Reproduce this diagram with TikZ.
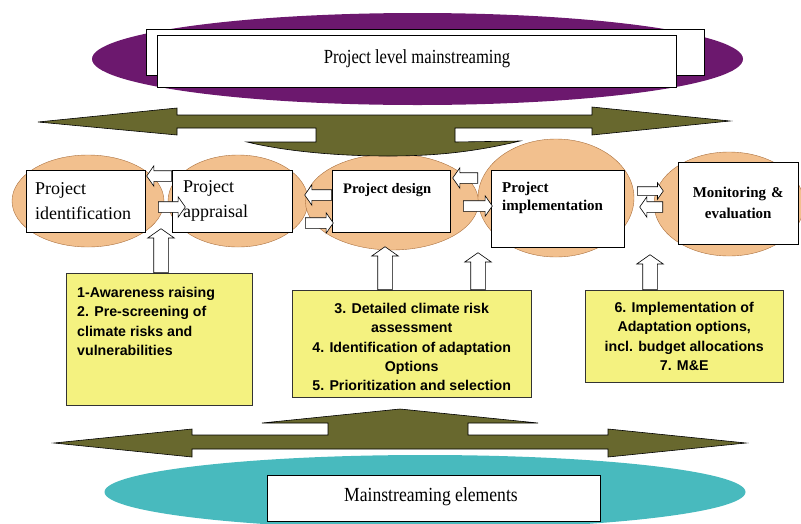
\documentclass[tikz,border=0pt]{standalone}
\usepackage{fontspec}
\setmainfont{Liberation Serif}
\newfontfamily\notefont{Liberation Sans}
\usetikzlibrary{shapes.geometric,shapes.arrows}

\definecolor{bandpurple}{RGB}{108,24,110}
\definecolor{arrowolive}{RGB}{104,104,46}
\definecolor{basecyan}{RGB}{72,186,190}
\definecolor{phasetan}{RGB}{242,192,142}
\definecolor{phaseedge}{RGB}{170,112,62}
\definecolor{noteyellow}{RGB}{244,242,128}

\begin{document}
\begin{tikzpicture}[x=1pt,y=-1pt,
	phase/.style={ellipse, draw=phaseedge, fill=phasetan, inner sep=0pt},
	stagebox/.style={draw, fill=white, inner sep=0pt, anchor=north west},
	notebox/.style={draw=black!80, fill=noteyellow, inner sep=0pt, anchor=north west},
	notetext/.style={inner sep=0pt, font=\notefont\bfseries\fontsize{14.2}{19.3}\selectfont},
	bandtext/.style={inner sep=0pt, anchor=base, font=\fontsize{20}{24}\selectfont},
	bigarrow/.style={fill=arrowolive, draw=black, line width=0.6pt, line join=miter},
	blockarr/.style={single arrow, draw, fill=white, line width=0.6pt, inner xsep=0pt,
		inner ysep=5pt, single arrow head extend=5pt, single arrow tip angle=110, anchor=tail},
	uparr/.style={blockarr, inner xsep=7pt, inner ysep=0pt, single arrow head extend=6pt, shape border rotate=90}]
	\useasboundingbox (0,0) rectangle (801,523);
	% top band
	\node[ellipse, fill=bandpurple, minimum width=651, minimum height=92] (band) at (417.5,59) {};
	\node[draw, fill=white, minimum width=558, minimum height=46] (bandback) at (425,52) {};
	\node[draw, fill=white, minimum width=519, minimum height=52] (bandbox) at (416.5,61) {};
	\node[bandtext] (bandtxt) at (417,63.5) {\scalebox{0.83}[1]{Project level mainstreaming}};
	% bottom band
	\node[ellipse, fill=basecyan, minimum width=641, minimum height=74] (base) at (425,492) {};
	\node[draw, fill=white, minimum width=333, minimum height=46] (basebox) at (433.5,498) {};
	\node[bandtext] (basetxt) at (431,501) {\scalebox{0.88}[1]{Mainstreaming elements}};
	% phases
	\node[phase, minimum width=152, minimum height=92] (e1) at (88,201) {};
	\node[phase, minimum width=140, minimum height=92] (e2) at (238,201) {};
	\node[phase, minimum width=173, minimum height=96] (e3) at (392,202) {};
	\node[phase, minimum width=156, minimum height=118] (e4) at (556,198) {};
	\node[phase, minimum width=150, minimum height=104] (e5) at (729,204) {};
	% big arrows
	\draw[bigarrow] (38,122) -- (177,108) -- (177,115) -- (592,115) -- (592,107) -- (730,121)
		-- (592,135) -- (592,128) -- (455,128) -- (455,142) -- (520,141)
		.. controls (470,153) and (430,156) .. (388,156) .. controls (330,156) and (280,150) .. (247,142)
		-- (316,142) -- (316,128) -- (177,128) -- (177,135) -- cycle;
	\draw[bigarrow] (54,443) -- (192,429) -- (192,435) -- (328,435) -- (328,423) -- (262,423)
		-- (400,409) -- (538,423) -- (468,423) -- (468,435) -- (608,435) -- (608,429)
		-- (746,443) -- (608,457) -- (608,449) -- (192,449) -- (192,457) -- cycle;
	% stage boxes
	\node[stagebox, minimum width=119, minimum height=62, text width=101, align=left,
		font=\fontsize{18}{25}\selectfont] (b1) at (26,170) {Project\\identification};
	\node[stagebox, minimum width=120, minimum height=62, text width=98, align=left,
		font=\fontsize{18}{25}\selectfont] (b2) at (172,170) {Project\\appraisal};
	\node[stagebox, minimum width=118, minimum height=62] (b3) at (332,170) {};
	\node[inner sep=0pt, anchor=north west, font=\bfseries\fontsize{14.5}{18}\selectfont] (b3txt)
		at ([shift={(11pt,-13pt)}]b3.north west) {Project design};
	\node[stagebox, minimum width=133, minimum height=77] (b4) at (491,170) {};
	\node[inner sep=0pt, anchor=north west, align=left, font=\bfseries\fontsize{15}{18}\selectfont] (b4txt)
		at ([shift={(11pt,-12pt)}]b4.north west) {Project\\implementation};
	\node[stagebox, minimum width=120, minimum height=82, text width=110, align=center,
		font=\bfseries\fontsize{15}{21}\selectfont] (b5) at (678,162) {Monitoring \&\\evaluation};
	% small arrows between stages
	\node[blockarr, shape border rotate=180, minimum height=25] (a12l) at (b2.west |- 0,176) {};
	\node[blockarr, minimum height=27] (a12r) at (158,207) {};
	\node[blockarr, shape border rotate=180, minimum height=27] (a23l) at (b3.west |- 0,195) {};
	\node[blockarr, minimum height=28] (a23r) at (305,223) {};
	\node[blockarr, shape border rotate=180, minimum height=25] (a34l) at (478,178) {};
	\node[blockarr, minimum height=29] (a34r) at (463,206) {};
	\node[blockarr, inner ysep=4pt, single arrow head extend=4pt, minimum height=26] (a45r) at (637,191) {};
	\node[blockarr, shape border rotate=180, minimum height=23] (a45l) at (663,207) {};
	% notes
	\node[notebox, minimum width=186, minimum height=132] (y1) at (66,273) {};
	\node[notetext, anchor=north west, align=left] (y1txt) at ([shift={(11pt,-14pt)}]y1.north west)
		{1-Awareness raising\\2. Pre-screening of\\climate risks and\\vulnerabilities};
	\node[notebox, minimum width=239, minimum height=107] (y2) at (292,290) {};
	\node[notetext, anchor=north, align=center] (y2txt) at ([yshift=-13pt]y2.north)
		{3. Detailed climate risk\\assessment\\4. Identification of adaptation\\Options\\5. Prioritization and selection};
	\node[notebox, minimum width=198, minimum height=92] (y3) at (585,290) {};
	\node[notetext, anchor=north, align=center] (y3txt) at ([yshift=-12pt]y3.north)
		{6. Implementation of\\Adaptation options,\\incl. budget allocations\\7. M\&E};
	% arrows up from the notes
	\node[uparr, minimum height=44] (vA) at (161,0 |- y1.north) {};
	\node[uparr, minimum height=43] (vB) at (385,0 |- y2.north) {};
	\node[uparr, minimum height=37] (vC) at (478,0 |- y2.north) {};
	\node[uparr, minimum height=35] (vD) at (650,0 |- y3.north) {};
\end{tikzpicture}
\end{document}
